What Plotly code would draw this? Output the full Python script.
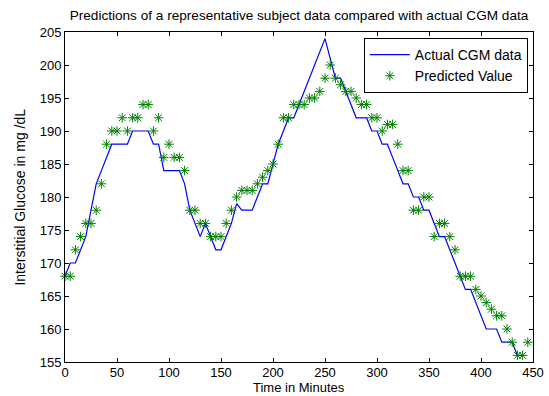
import plotly.graph_objects as go

# Actual CGM data (minutes, mg/dL)
cgm_time = [0, 5, 10, 15, 20, 25, 30, 35, 40, 45, 50, 55, 60, 65, 70, 75, 80, 85, 90, 95,
            100, 105, 110, 115, 120, 125, 130, 135, 140, 145, 150, 155, 160, 165, 170, 175,
            180, 185, 190, 195, 200, 205, 210, 215, 220, 225, 230, 235, 240, 245, 250, 255,
            260, 265, 270, 275, 280, 285, 290, 295, 300, 305, 310, 315, 320, 325, 330, 335,
            340, 345, 350, 355, 360, 365, 370, 375, 380, 385, 390, 395, 400, 405, 410, 415,
            420, 425, 430, 435, 440]
cgm_value = [168, 170, 170, 172, 174, 178, 182, 184, 186, 188, 188, 188, 188, 190, 190, 190, 190, 188, 188, 184,
             184, 184, 184, 182, 178, 176, 174, 176, 174, 172, 172, 174, 176, 179, 178, 178,
             178, 180, 182, 182, 185, 188, 190, 192, 192, 194, 196, 198, 200, 202, 204, 201,
             198, 198, 196, 194, 192, 192, 192, 190, 190, 188, 188, 186, 184, 182, 182, 180,
             180, 178, 178, 176, 174, 174, 172, 170, 168, 166, 166, 164, 162, 160, 160, 160,
             158, 158, 158, 156, 156]

# Predicted values (minutes, mg/dL)
pred_time = [0, 5, 10, 15, 20, 25, 30, 35, 40, 45, 50, 55, 60, 65, 70, 75, 80, 85, 90, 95,
             100, 105, 110, 115, 120, 125, 130, 135, 140, 145, 150, 155, 160, 165, 170, 175,
             180, 185, 190, 195, 200, 205, 210, 215, 220, 225, 230, 235, 240, 245, 250, 255,
             260, 265, 270, 275, 280, 285, 290, 295, 300, 305, 310, 315, 320, 325, 330, 335,
             340, 345, 350, 355, 360, 365, 370, 375, 380, 385, 390, 395, 400, 405, 410, 415,
             420, 425, 430, 435, 440, 445]
pred_value = [168, 168, 172, 174, 176, 176, 178, 182, 188, 190, 190, 192, 190, 192, 192, 194, 194, 190, 192, 186,
              188, 186, 186, 184, 178, 178, 176, 176, 174, 174, 174, 176, 178, 180, 181, 181,
              181, 182, 183, 184, 185, 188, 192, 192, 194, 194, 194, 195, 195, 196, 198, 200,
              198, 197, 196, 196, 195, 194, 194, 192, 192, 190, 191, 191, 188, 184, 184, 178,
              178, 180, 180, 174, 176, 176, 174, 172, 168, 168, 168, 166, 165, 164, 163, 162,
              162, 160, 158, 156, 156, 158]

x_ticks = [0, 50, 100, 150, 200, 250, 300, 350, 400, 450]
y_ticks = [155, 160, 165, 170, 175, 180, 185, 190, 195, 200, 205]

FONT = "Liberation Sans, Arial, sans-serif"

fig = go.Figure()
fig.add_trace(go.Scatter(
    x=cgm_time, y=cgm_value, mode="lines", name="Actual CGM data",
    line=dict(color="#0000ff", width=1.2),
))
fig.add_trace(go.Scatter(
    x=pred_time, y=pred_value, mode="markers", name="Predicted Value",
    marker=dict(symbol="asterisk-open", size=8, color="#008000",
                line=dict(color="#008000", width=1)),
    cliponaxis=False,
))

axis_common = dict(
    showline=True, linecolor="black", linewidth=1, mirror="ticks",
    ticks="inside", ticklen=4, tickcolor="black", tickwidth=1,
    showgrid=False, zeroline=False, automargin=False,
    tickfont=dict(family=FONT, size=13, color="black"),
)

fig.update_xaxes(range=[0, 450], tickvals=x_ticks, ticktext=[str(v) for v in x_ticks],
                 ticklabelstandoff=-2, **axis_common)
fig.update_yaxes(range=[155, 205], tickvals=y_ticks, ticktext=[str(v) for v in y_ticks],
                 **axis_common)

fig.update_layout(
    width=549, height=396,
    margin=dict(l=65, r=16, t=32, b=34),
    paper_bgcolor="white", plot_bgcolor="white",
    title=dict(text="Predictions of a representative subject data compared with actual CGM data",
               x=0.5, xref="paper", xanchor="center", y=1 - 15 / 396, yref="container", yanchor="middle",
               font=dict(family=FONT, size=13.6, color="black")),
    legend=dict(x=0.989, y=0.982, xanchor="right", yanchor="top",
                bordercolor="black", borderwidth=1, bgcolor="white",
                font=dict(family=FONT, size=14, color="black"),
                tracegroupgap=0, itemwidth=40),
    showlegend=True,
    annotations=[
        dict(text="Time in Minutes", xref="paper", yref="paper", x=0.5, y=-0.102,
             xanchor="center", yanchor="bottom", showarrow=False, borderpad=0,
             font=dict(family=FONT, size=13, color="black")),
        dict(text="Interstitial Glucose in mg /dL", xref="paper", yref="paper",
             x=-0.097, y=0.5, xanchor="center", yanchor="middle", textangle=-90,
             showarrow=False,
             font=dict(family=FONT, size=14, color="black")),
    ],
)

fig.write_html("out.html", config={"displayModeBar": False},
               post_script="document.body.style.margin='0';document.body.style.padding='0';")
